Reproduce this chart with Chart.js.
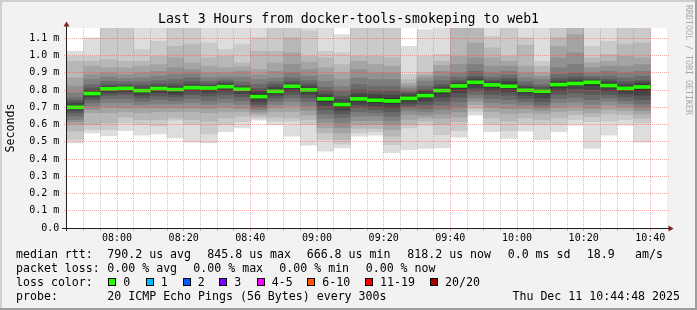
<!DOCTYPE html>
<html>
<head>
<meta charset="utf-8">
<script src="https://cdn.jsdelivr.net/npm/chart.js@4/dist/chart.umd.min.js"></script>
<style>
  html, body { margin: 0; padding: 0; background: #f2f2f2; }
  #wrap { position: relative; width: 697px; height: 310px; overflow: hidden; font-family: 'DejaVu Sans Mono', monospace; }
  #wrap canvas { position: absolute; left: 0; top: 0; }
  .lg { position: absolute; font-size: 11.6px; line-height: 14px; white-space: pre; color: #000; }
  .box { position: absolute; width: 6px; height: 6px; border: 1px solid #000; }
  #wm { position: absolute; left: 685px; top: 5px; writing-mode: vertical-rl; font-size: 8.3px; line-height: 8px; color: #a8a8a8; white-space: pre; }
</style>
</head>
<body>
<div id="wrap">
  <canvas id="smoke" width="697" height="310"></canvas>
  <div id="wm">RRDTOOL / TOBI OETIKER</div>
</div>
<script>
// 5 minute slots (start time of each step)
const slotStart = ['07:45','07:50','07:55','08:00','08:05','08:10','08:15','08:20','08:25','08:30','08:35','08:40',
                   '08:45','08:50','08:55','09:00','09:05','09:10','09:15','09:20','09:25','09:30','09:35','09:40',
                   '09:45','09:50','09:55','10:00','10:05','10:10','10:15','10:20','10:25','10:30','10:35'];

// median rtt per slot (ms)
const medians = [0.700,0.780,0.807,0.810,0.797,0.809,0.803,0.814,0.812,0.820,0.805,0.762,
                 0.793,0.822,0.801,0.749,0.716,0.749,0.741,0.737,0.752,0.768,0.797,0.824,
                 0.845,0.830,0.822,0.799,0.793,0.832,0.838,0.845,0.826,0.810,0.818];

// 20 sorted pings per slot (ms)
const pings = [
  [0.494,0.513,0.562,0.600,0.616,0.629,0.649,0.668,0.681,0.693,0.710,0.726,0.739,0.755,0.784,0.823,0.871,0.967,0.996,1.025],
  [0.552,0.571,0.600,0.668,0.687,0.707,0.726,0.745,0.759,0.770,0.788,0.799,0.813,0.832,0.861,0.890,0.938,0.967,0.996,1.103],
  [0.535,0.571,0.610,0.668,0.701,0.726,0.751,0.770,0.784,0.797,0.813,0.821,0.832,0.851,0.875,0.900,0.929,0.977,1.170,1.190],
  [0.565,0.610,0.643,0.674,0.697,0.726,0.751,0.774,0.788,0.801,0.815,0.823,0.832,0.848,0.867,0.890,0.929,0.967,1.165,1.180],
  [0.539,0.600,0.629,0.668,0.697,0.716,0.736,0.755,0.770,0.784,0.803,0.813,0.828,0.848,0.871,0.900,0.938,0.967,1.035,1.165],
  [0.546,0.591,0.629,0.674,0.697,0.720,0.745,0.765,0.784,0.799,0.817,0.824,0.836,0.855,0.880,0.909,0.948,0.996,1.083,1.165],
  [0.523,0.625,0.639,0.674,0.697,0.720,0.739,0.759,0.774,0.788,0.807,0.821,0.836,0.861,0.890,0.929,0.987,1.054,1.165,1.180],
  [0.498,0.600,0.629,0.674,0.697,0.726,0.751,0.774,0.794,0.807,0.821,0.832,0.848,0.871,0.894,0.919,0.958,1.064,1.165,1.180],
  [0.494,0.546,0.620,0.668,0.693,0.716,0.739,0.765,0.784,0.801,0.817,0.824,0.836,0.851,0.871,0.900,0.938,0.987,1.074,1.165],
  [0.558,0.600,0.639,0.674,0.701,0.726,0.751,0.774,0.794,0.813,0.830,0.838,0.848,0.859,0.875,0.900,0.929,0.996,1.035,1.165],
  [0.581,0.616,0.649,0.674,0.693,0.716,0.739,0.761,0.780,0.797,0.813,0.819,0.828,0.848,0.875,0.909,0.935,0.958,1.064,1.165],
  [0.625,0.635,0.649,0.662,0.674,0.687,0.701,0.716,0.732,0.751,0.778,0.794,0.809,0.832,0.861,0.890,0.919,1.025,1.103,1.165],
  [0.600,0.620,0.643,0.674,0.697,0.716,0.736,0.755,0.770,0.784,0.803,0.817,0.832,0.848,0.871,0.909,0.958,1.025,1.166,1.180],
  [0.533,0.620,0.639,0.674,0.707,0.732,0.755,0.774,0.794,0.809,0.828,0.838,0.851,0.871,0.900,0.948,1.016,1.103,1.166,1.180],
  [0.480,0.600,0.629,0.654,0.681,0.707,0.732,0.755,0.774,0.790,0.809,0.822,0.836,0.855,0.880,0.919,0.963,0.996,1.145,1.170],
  [0.446,0.513,0.552,0.581,0.610,0.635,0.662,0.687,0.712,0.732,0.759,0.774,0.794,0.817,0.851,0.890,0.929,0.987,1.025,1.165],
  [0.465,0.488,0.513,0.552,0.581,0.610,0.639,0.662,0.681,0.701,0.726,0.745,0.765,0.794,0.822,0.861,0.900,0.948,1.016,1.122],
  [0.533,0.552,0.577,0.600,0.623,0.649,0.674,0.697,0.716,0.736,0.759,0.778,0.803,0.832,0.871,0.919,0.967,0.996,1.166,1.180],
  [0.539,0.558,0.577,0.600,0.623,0.649,0.668,0.687,0.707,0.726,0.755,0.774,0.794,0.822,0.861,0.900,0.948,0.996,1.166,1.180],
  [0.436,0.484,0.533,0.571,0.600,0.623,0.649,0.674,0.697,0.720,0.751,0.770,0.794,0.822,0.861,0.900,0.938,0.987,1.166,1.180],
  [0.455,0.581,0.600,0.629,0.658,0.681,0.697,0.710,0.724,0.739,0.763,0.774,0.784,0.794,0.809,0.822,0.838,0.861,0.890,1.054],
  [0.461,0.596,0.620,0.639,0.654,0.674,0.693,0.716,0.736,0.755,0.780,0.794,0.803,0.822,0.851,0.871,0.886,0.900,0.996,1.151],
  [0.465,0.542,0.600,0.635,0.662,0.687,0.712,0.736,0.759,0.782,0.805,0.817,0.832,0.855,0.880,0.909,0.944,0.967,1.006,1.165],
  [0.527,0.565,0.616,0.643,0.674,0.701,0.732,0.759,0.784,0.809,0.832,0.842,0.855,0.875,0.900,0.948,0.996,1.166,1.170,1.180],
  [0.654,0.678,0.697,0.716,0.736,0.755,0.774,0.794,0.813,0.832,0.853,0.865,0.880,0.909,0.948,0.987,1.074,1.166,1.170,1.180],
  [0.558,0.600,0.639,0.674,0.701,0.726,0.751,0.774,0.797,0.817,0.838,0.848,0.859,0.875,0.900,0.938,0.987,1.045,1.112,1.165],
  [0.519,0.565,0.620,0.662,0.693,0.720,0.745,0.770,0.790,0.809,0.836,0.851,0.867,0.886,0.909,0.938,0.967,0.996,1.166,1.180],
  [0.562,0.600,0.639,0.668,0.693,0.712,0.732,0.751,0.770,0.788,0.807,0.817,0.828,0.848,0.871,0.900,0.938,1.060,1.103,1.165],
  [0.513,0.600,0.629,0.662,0.681,0.697,0.712,0.732,0.755,0.778,0.799,0.803,0.819,0.832,0.861,0.880,0.900,0.938,0.967,1.165],
  [0.558,0.600,0.639,0.674,0.701,0.726,0.751,0.774,0.797,0.817,0.842,0.851,0.867,0.890,0.929,0.987,1.054,1.103,1.166,1.180],
  [0.596,0.629,0.658,0.681,0.707,0.732,0.759,0.784,0.809,0.828,0.848,0.859,0.875,0.900,0.948,1.016,1.122,1.166,1.170,1.180],
  [0.461,0.616,0.645,0.668,0.693,0.716,0.745,0.774,0.803,0.828,0.850,0.857,0.867,0.880,0.900,0.929,0.958,0.987,1.054,1.165],
  [0.539,0.620,0.662,0.687,0.712,0.736,0.755,0.774,0.794,0.813,0.836,0.848,0.861,0.880,0.909,0.938,0.967,1.006,1.083,1.165],
  [0.596,0.629,0.658,0.681,0.701,0.720,0.739,0.759,0.778,0.797,0.821,0.832,0.848,0.871,0.900,0.938,0.996,1.064,1.166,1.180],
  [0.498,0.610,0.635,0.662,0.681,0.701,0.720,0.745,0.770,0.797,0.830,0.842,0.855,0.880,0.909,0.948,0.987,1.074,1.166,1.180]
];

const yTicks = [0, 0.1, 0.2, 0.3, 0.4, 0.5, 0.6, 0.7, 0.8, 0.9, 1.0, 1.1];
const timeLabels = ['08:00','08:20','08:40','09:00','09:20','09:40','10:00','10:20','10:40'];

const chartTitle = 'Last 3 Hours from docker-tools-smokeping to web1';
const rttStats = ['790.2 us avg', '845.8 us max', '666.8 us min', '818.2 us now', '0.0 ms sd', '18.9', 'am/s'];
const lossStats = ['0.00 % avg', '0.00 % max', '0.00 % min', '0.00 % now'];
const lossLevels = ['0', '1', '2', '3', '4-5', '6-10', '11-19', '20/20'];
const lossColors = ['#26ff00', '#00b8ff', '#0059ff', '#7e00ff', '#ff00ff', '#ff5500', '#ff0000', '#a10000'];
const probeText = '20 ICMP Echo Pings (56 Bytes) every 300s';
const stampText = 'Thu Dec 11 10:44:48 2025';

// helpers
const FONT = 'DejaVu Sans Mono';
const step = 5;
function toMin(t) { let p = t.split(':'); return parseInt(p[0], 10) * 60 + parseInt(p[1], 10); }
function fmtMin(v) {
    v = Math.round(v);
    let h = Math.floor(v / 60), m = v % 60;
    return (h < 10 ? '0' : '') + h + ':' + (m < 10 ? '0' : '') + m;
}

let slotX = slotStart.map(toMin);
let xMin = slotX[0];
let xMax = slotX[slotX.length - 1] + step + 5;
let majorX = timeLabels.map(toMin);
let gridX = slotX.slice(1).concat([slotX[slotX.length - 1] + step]);
let minorX = gridX.filter(v => majorX.indexOf(v) < 0);

let majorGrid = 'rgba(222,79,79,0.48)';
let minorGrid = 'rgba(143,143,143,0.5)';

// smoke layers, smokeping style grey shades
let pingCount = 20;
let half = pingCount / 2;
let medianHalf = 0.0087;
let datasets = [];

datasets.push({
    type: 'bar',
    data: medians.map((m, i) => ({ x: slotX[i] + step / 2, y: [m - medianHalf, m + medianHalf] })),
    backgroundColor: lossColors[0],
    borderWidth: 0, grouped: false, barPercentage: 1, categoryPercentage: 1
});

let stepPts = medians.map((m, i) => ({ x: slotX[i], y: m }));
stepPts.push({ x: slotX[slotX.length - 1] + step, y: medians[medians.length - 1] });
datasets.push({
    type: 'line',
    data: stepPts,
    borderColor: '#202020', borderWidth: 1, pointRadius: 0, stepped: 'before', fill: false
});

for (let i = half; i >= 1; i--) {
    let g = Math.floor(190 / half * (half - i)) + 50;
    datasets.push({
        type: 'bar',
        data: pings.map((p, c) => ({ x: slotX[c] + step / 2, y: [p[i - 1], p[pingCount - i]] })),
        backgroundColor: 'rgb(' + g + ',' + g + ',' + g + ')',
        borderWidth: 0, grouped: false, barPercentage: 1, categoryPercentage: 1
    });
}

let rrdFrame = {
    id: 'rrdFrame',
    beforeDraw(chart) {
        let ctx = chart.ctx, a = chart.chartArea, w = chart.width, h = chart.height;
        ctx.save();
        ctx.fillStyle = '#f2f2f2';
        ctx.fillRect(0, 0, w, h);
        ctx.fillStyle = '#cfcfcf';
        ctx.fillRect(0, 0, w, 2);
        ctx.fillRect(0, 0, 2, h);
        ctx.fillStyle = '#9e9e9e';
        ctx.fillRect(0, h - 2, w, 2);
        ctx.fillRect(w - 2, 0, 2, h);
        ctx.fillStyle = '#ffffff';
        ctx.fillRect(a.left, a.top, a.right - a.left, a.bottom - a.top);
        ctx.restore();
    },
    // rrdtool puts its dotted grid on top of the graph
    afterDatasetsDraw(chart) {
        let ctx = chart.ctx, a = chart.chartArea;
        let xs = chart.scales.x, ys = chart.scales.y;
        ctx.save();
        ctx.lineWidth = 1;
        let vline = (v, color) => {
            let px = Math.floor(xs.getPixelForValue(v)) + 0.5;
            ctx.strokeStyle = color;
            ctx.setLineDash([1, 1]);
            ctx.beginPath();
            ctx.moveTo(px, Math.round(a.top));
            ctx.lineTo(px, Math.round(a.bottom));
            ctx.stroke();
            ctx.setLineDash([]);
            ctx.beginPath();
            ctx.moveTo(px, Math.round(a.bottom));
            ctx.lineTo(px, Math.round(a.bottom) + 3);
            ctx.stroke();
        };
        minorX.forEach(v => vline(v, minorGrid));
        majorX.forEach(v => vline(v, majorGrid));
        ctx.strokeStyle = majorGrid;
        ctx.setLineDash([1, 1]);
        yTicks.forEach(v => {
            let py = Math.floor(ys.getPixelForValue(v)) + 0.5;
            ctx.beginPath();
            ctx.moveTo(a.left - 3, py);
            ctx.lineTo(a.right + 2, py);
            ctx.stroke();
        });
        ctx.restore();
    },
    afterDraw(chart) {
        let ctx = chart.ctx, a = chart.chartArea;
        let ax = a.left - 0.5, ay = a.bottom + 0.5;
        ctx.save();
        ctx.strokeStyle = '#1f1f1f';
        ctx.lineWidth = 1;
        ctx.beginPath();
        ctx.moveTo(a.left - 5, ay); ctx.lineTo(a.right + 2, ay);
        ctx.moveTo(ax, a.bottom + 3); ctx.lineTo(ax, a.top - 2);
        ctx.stroke();
        ctx.fillStyle = '#801f1f';
        ctx.beginPath();
        ctx.moveTo(ax, a.top - 6.5); ctx.lineTo(ax - 3, a.top - 1.5); ctx.lineTo(ax + 3, a.top - 1.5);
        ctx.closePath(); ctx.fill();
        ctx.beginPath();
        ctx.moveTo(a.right + 6.5, ay); ctx.lineTo(a.right + 1.5, ay - 3); ctx.lineTo(a.right + 1.5, ay + 3);
        ctx.closePath(); ctx.fill();
        ctx.restore();
    }
};

new Chart(document.getElementById('smoke'), {
    type: 'bar',
    data: { datasets: datasets },
    plugins: [rrdFrame],
    options: {
        responsive: false,
        devicePixelRatio: 1,
        animation: false,
        events: [],
        layout: { padding: 0 },
        plugins: {
            legend: { display: false },
            tooltip: { enabled: false },
            title: {
                display: true, text: chartTitle, color: '#000',
                font: { family: FONT, size: 13.2, weight: 'normal', lineHeight: '16px' },
                padding: { top: 11.5, bottom: 0.5 }
            }
        },
        scales: {
            x: {
                type: 'linear', min: xMin, max: xMax, offset: false,
                afterFit: s => { s.height = 82; },
                afterBuildTicks: s => { s.ticks = gridX.map(v => ({ value: v })); },
                ticks: {
                    autoSkip: false, maxRotation: 0, padding: 1, color: '#000',
                    font: { family: FONT, size: 10 },
                    callback: v => majorX.indexOf(Math.round(v)) >= 0 ? fmtMin(v) : ''
                },
                grid: { offset: false, drawOnChartArea: false, color: 'rgba(0,0,0,0)', tickLength: 3 },
                border: { display: false }
            },
            y: {
                min: 0, max: 1.16,
                afterFit: s => { s.width = 67; },
                afterBuildTicks: s => { s.ticks = yTicks.map(v => ({ value: v })); },
                ticks: {
                    padding: 4.7, color: '#000',
                    font: { family: FONT, size: 10 },
                    callback: v => v === 0 ? '0.0' : v.toFixed(1) + ' m'
                },
                grid: { drawOnChartArea: false, color: 'rgba(0,0,0,0)', tickLength: 3 },
                border: { display: false },
                title: {
                    display: true, text: 'Seconds', color: '#000',
                    font: { family: FONT, size: 11.6, lineHeight: 1.2 },
                    padding: { top: 4, bottom: 0 }
                }
            },
            yRight: {
                position: 'right',
                afterFit: s => { s.width = 30; },
                ticks: { display: false },
                grid: { display: false },
                border: { display: false }
            }
        }
    }
});

// rrdtool style legend below the graph
let wrap = document.getElementById('wrap');
function addText(txt, left, top) {
    let d = document.createElement('div');
    d.className = 'lg';
    d.textContent = txt;
    d.style.left = left + 'px';
    d.style.top = top + 'px';
    wrap.appendChild(d);
    return d;
}
let rowTop = [247.3, 261.3, 275.3, 289];
let rttX = [107.3, 207.3, 306.7, 407.3, 507.7, 586.7, 635];
let lossX = [107.3, 193.3, 279.3, 365.7];
let boxX = [108.3, 145.7, 182.7, 219.3, 256.7, 307.3, 365, 430];

addText('median rtt:', 16, rowTop[0]);
rttStats.forEach((t, i) => addText(t, rttX[i], rowTop[0]));
addText('packet loss:', 16, rowTop[1]);
lossStats.forEach((t, i) => addText(t, lossX[i], rowTop[1]));
addText('loss color:', 16, rowTop[2]);
lossLevels.forEach((t, i) => {
    let b = document.createElement('div');
    b.className = 'box';
    b.style.left = boxX[i] + 'px';
    b.style.top = '278.3px';
    b.style.background = lossColors[i];
    wrap.appendChild(b);
    addText(t, boxX[i] + 15, rowTop[2]);
});
addText('probe:', 16, rowTop[3]);
addText(probeText, 107.3, rowTop[3]);
let st = addText(stampText, 0, rowTop[3]);
st.style.left = 'auto';
st.style.right = '17px';
</script>
</body>
</html>
